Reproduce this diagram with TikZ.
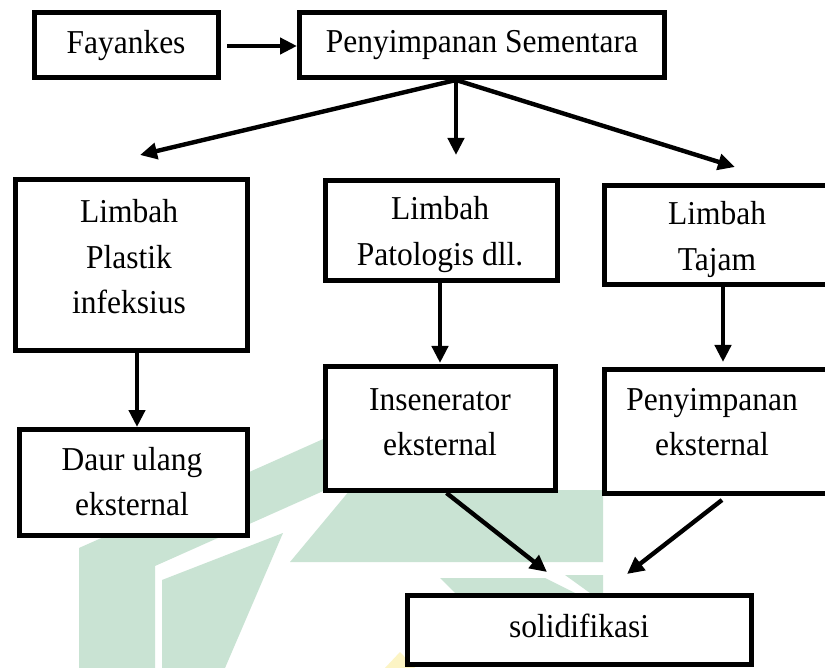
\documentclass[tikz,border=0pt]{standalone}
\usepackage{fontspec}
\setmainfont{Liberation Serif}
\usetikzlibrary{arrows.meta,calc}
\definecolor{wm}{RGB}{201,227,211}
\definecolor{wmy}{RGB}{252,244,196}
\newcommand\mlines[1]{\scalebox{1}[1.06]{\vtop{\halign{\hfil##\hfil\cr#1\crcr}}}}
\newcommand\oneline[1]{\scalebox{1}[1.06]{#1}}
\begin{document}
\begin{tikzpicture}[x=1pt,y=-1pt,
  box/.style={draw, line width=5pt, fill=white, inner sep=0pt, outer sep=2.5pt},
  txt/.style={font=\fontsize{31.5}{42.5}\selectfont, inner sep=0pt, anchor=base},
  arr/.style={line width=4.4pt, -{Triangle[length=17pt,width=16pt]}},
  wmark/.style={fill=wm, draw=none}
]
\path[use as bounding box] (0,0) rectangle (825,668);
\clip (0,0) rectangle (825,668);
\fill[white] (0,0) rectangle (825,668);
% watermark
\fill[wmark] (79,668) -- (79,548) -- (330,436) -- (330,488) -- (155,566) -- (155,668) -- cycle;
\fill[wmark] (290,562) -- (350,490) -- (603,490) -- (603,562) -- cycle;
\fill[wmark] (162,668) -- (162,580) -- (283,533) -- (225,668) -- cycle;
\fill[wmark] (440,578) -- (545,578) -- (575,593) -- (455,593) -- cycle;
\fill[wmark] (565,575) -- (603,575) -- (603,593) -- (590,593) -- cycle;
\fill[wmy] (385,668) -- (400,652) -- (415,668) -- cycle;
% boxes
\node[box, minimum width=184pt, minimum height=65pt] (fay) at (126.5,45) {};
\node[box, minimum width=365pt, minimum height=65pt] (ps) at (482,45) {};
\node[box, minimum width=232pt, minimum height=171pt] (plastik) at (131.5,265) {};
\node[box, minimum width=232pt, minimum height=100pt] (pato) at (441.5,230.5) {};
\node[box, minimum width=233pt, minimum height=99pt] (tajam) at (721,235) {};
\node[box, minimum width=228pt, minimum height=106pt] (daur) at (133.5,482.5) {};
\node[box, minimum width=230pt, minimum height=124pt] (insen) at (440.5,428.5) {};
\node[box, minimum width=233pt, minimum height=124pt] (peks) at (721,431.5) {};
\node[box, minimum width=344pt, minimum height=69pt] (solid) at (579.5,630) {};
% texts
\node[txt] (tfay) at (126,54) {\oneline{Fayankes}};
\node[txt] (tps) at (482,53) {\oneline{Penyimpanan Sementara}};
\node[txt] (tplastik) at (129,223) {\mlines{Limbah\cr Plastik\cr infeksius}};
\node[txt] (tpato) at (440,220) {\mlines{Limbah\cr Patologis dll.}};
\node[txt] (ttajam) at (717,225) {\mlines{Limbah\cr Tajam}};
\node[txt] (tdaur) at (132,470) {\mlines{Daur ulang\cr eksternal}};
\node[txt] (tinsen) at (440,410) {\mlines{Insenerator\cr eksternal}};
\node[txt] (tpeks) at (712,410) {\mlines{Penyimpanan\cr eksternal}};
\node[txt] (tsolid) at (579,637) {\oneline{solidifikasi}};
% connector points
\coordinate (fan) at ($(ps.south)+(-26,0)$);
\coordinate (tipL) at (140,155);
\coordinate (tipM) at (456,155);
\coordinate (tipR) at (735,167);
\coordinate (tipS1) at (547,572);
\coordinate (tipS2) at (627,574);
% connectors
\draw[arr] ($(fay.east)+(6,1)$) -- (ps.west |- 0,46);
\draw[arr] (fan) -- (tipL);
\draw[arr] (fan) -- (tipM);
\draw[arr] (fan) -- (tipR);
\draw[arr] ($(plastik.south)+(5.5,0)$) -- ($(daur.north)+(3.5,0)$);
\draw[arr] ($(pato.south)+(-1.5,0)$) -- ($(insen.north)+(-0.5,-1)$);
\draw[arr] ($(tajam.south)+(2,0)$) -- ($(peks.north)+(2,-5)$);
\draw[arr] ($(insen.south)+(6,0)$) -- (tipS1);
\draw[arr] ($(peks.south)+(1,4)$) -- (tipS2);
\end{tikzpicture}
\end{document}
